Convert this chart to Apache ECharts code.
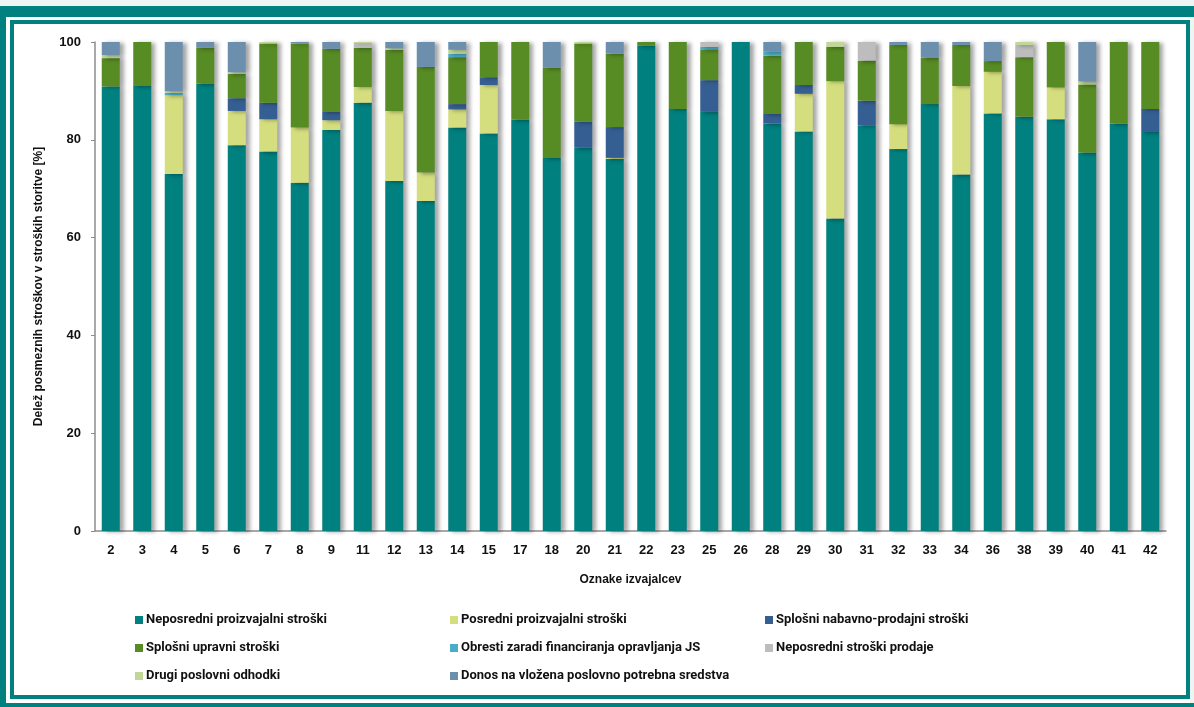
<!DOCTYPE html>
<html>
<head>
<meta charset="utf-8">
<script src="https://cdn.jsdelivr.net/npm/echarts@6/dist/echarts.min.js"></script>
<style>
  html, body { margin: 0; padding: 0; background: #eef3f4; }
  #wrap { position: relative; width: 1194px; height: 707px; overflow: hidden; }
  .band { position: absolute; background: #00807f; }
  #paper { position: absolute; left: 6px; top: 17px; width: 1184px; height: 686px; background: #fff; }
  #inner { position: absolute; left: 10px; top: 20px; width: 1172px; height: 671px; border: 4px solid #00807f; }
  #chart { position: absolute; left: 0; top: 0; width: 1194px; height: 707px; }
</style>
</head>
<body>
<div id="wrap">
  <div class="band" style="left:0;top:6px;width:1194px;height:11px"></div>
  <div class="band" style="left:0;top:6px;width:6px;height:701px"></div>
  <div class="band" style="left:0;top:703px;width:1194px;height:4px"></div>
  <div id="paper"></div>
  <div id="inner"></div>
  <div id="chart"></div>
</div>
<script>
// oznake izvajalcev
var categories = ['2','3','4','5','6','7','8','9','11','12','13','14','15','17','18','20','21',
                  '22','23','25','26','28','29','30','31','32','33','34','36','38','39','40','41','42'];

// deleži v % (od spodaj navzgor)
var neposredniProizv = [90.9, 91.0, 73.0, 91.5, 78.9, 77.6, 71.2, 82.0, 87.6, 71.6, 67.5, 82.5, 81.3, 84.1, 76.3, 78.4, 76.1,
                        99.2, 86.3, 85.7, 100, 83.3, 81.7, 63.9, 83.0, 78.1, 87.3, 72.9, 85.4, 84.7, 84.2, 77.4, 83.3, 81.6];
var posredniProizv   = [0, 0, 16.1, 0, 7.0, 6.6, 11.3, 2.0, 3.2, 14.3, 5.8, 3.7, 9.9, 0, 0, 0, 0.2,
                        0, 0, 0, 0, 0, 7.7, 28.1, 0, 5.1, 0, 18.1, 8.5, 0, 6.5, 0, 0, 0];
var nabavnoProdajni  = [0, 0, 0, 0, 2.6, 3.4, 0, 1.7, 0, 0, 0, 1.1, 1.6, 0, 0, 5.3, 6.3,
                        0, 0, 6.5, 0, 2.0, 1.8, 0, 5.0, 0, 0, 0, 0, 0, 0, 0, 0, 4.7];
var upravni          = [5.8, 9.0, 0, 7.3, 5.0, 12.1, 17.2, 12.9, 8.0, 12.5, 21.6, 9.6, 7.2, 15.9, 18.4, 16.0, 15.0,
                        0.8, 13.7, 6.3, 0, 11.9, 8.8, 7.0, 8.2, 16.2, 9.5, 8.4, 2.2, 12.2, 9.3, 13.9, 16.7, 13.7];
var obresti          = [0, 0, 0.5, 0, 0, 0, 0, 0, 0, 0, 0, 0.7, 0, 0, 0, 0, 0,
                        0, 0, 0.5, 0, 0.8, 0, 0, 0, 0, 0, 0, 0, 0, 0, 0, 0, 0];
var prodaje          = [0, 0, 0, 0, 0, 0, 0, 0, 1.0, 0, 0, 0, 0, 0, 0, 0, 0,
                        0, 0, 1.0, 0, 0, 0, 0, 3.8, 0, 0, 0, 0, 2.5, 0, 0, 0, 0];
var drugi            = [0.6, 0, 0.3, 0, 0.3, 0.3, 0, 0, 0.2, 0.3, 0, 0.8, 0, 0, 0, 0.3, 0,
                        0, 0, 0, 0, 0, 0, 1.0, 0, 0, 0, 0, 0, 0.6, 0, 0.6, 0, 0];
var donos            = [2.7, 0, 10.1, 1.2, 6.2, 0, 0.3, 1.4, 0, 1.3, 5.1, 1.6, 0, 0, 5.3, 0, 2.4,
                        0, 0, 0, 0, 2.0, 0, 0, 0, 0.6, 3.2, 0.6, 3.9, 0, 0, 8.1, 0, 0];

var seriesNames = ['Neposredni proizvajalni stroški', 'Posredni proizvajalni stroški',
                   'Splošni nabavno-prodajni stroški', 'Splošni upravni stroški',
                   'Obresti zaradi financiranja opravljanja JS', 'Neposredni stroški prodaje',
                   'Drugi poslovni odhodki', 'Donos na vložena poslovno potrebna sredstva'];
var seriesData = [neposredniProizv, posredniProizv, nabavnoProdajni, upravni, obresti, prodaje, drugi, donos];
var colors = ['#00807f', '#d5de7e', '#355f92', '#578b24', '#4aadc8', '#bdbdbd', '#c0d797', '#6c8fae'];

var labelFont = 'Liberation Sans';

function makeSeries() {
    var s = [];
    for (var i = 0; i < seriesNames.length; i++) {
        s.push({
            name: seriesNames[i],
            type: 'bar',
            stack: 'total',
            barWidth: 18,
            itemStyle: {
                color: colors[i],
                shadowColor: 'rgba(0,0,0,0.35)',
                shadowBlur: 4,
                shadowOffsetX: 4,
                shadowOffsetY: 1
            },
            data: seriesData[i]
        });
    }
    return s;
}

function legendCol(left, names) {
    return {
        orient: 'vertical',
        left: left,
        top: 608,
        itemWidth: 8,
        itemHeight: 8,
        itemGap: 14,
        icon: 'rect',
        data: names,
        textStyle: { fontFamily: 'Roboto', fontSize: 13, fontWeight: 'bold', color: '#111', lineHeight: 14, padding: [0, 0, 0, -2] },
        selectedMode: false
    };
}

var chart = echarts.init(document.getElementById('chart'));
chart.setOption({
    animation: false,
    color: colors,
    grid: { left: 95, right: 28, top: 42, bottom: 176, containLabel: false },
    xAxis: {
        type: 'category',
        data: categories,
        name: 'Oznake izvajalcev',
        nameLocation: 'middle',
        nameGap: 43,
        nameTextStyle: { fontFamily: labelFont, fontSize: 12, fontWeight: 'bold', color: '#111' },
        axisLine: { lineStyle: { color: '#8c8c8c', width: 1.5 } },
        axisTick: { length: 5, lineStyle: { color: '#8c8c8c' } },
        axisLabel: { margin: 13, fontFamily: labelFont, fontSize: 13, fontWeight: 'bold', color: '#111', interval: 0 }
    },
    yAxis: {
        type: 'value',
        min: 0,
        max: 100,
        interval: 20,
        name: 'Delež posmeznih stroškov v stroških storitve [%]',
        nameLocation: 'middle',
        nameGap: 50,
        nameTextStyle: { fontFamily: labelFont, fontSize: 12, fontWeight: 'bold', color: '#111' },
        axisLine: { show: true, lineStyle: { color: '#8c8c8c', width: 1.5 } },
        axisTick: { show: true, length: 4, lineStyle: { color: '#8c8c8c' } },
        splitLine: { show: false },
        axisLabel: { margin: 14, fontFamily: labelFont, fontSize: 13, fontWeight: 'bold', color: '#111' }
    },
    legend: [
        legendCol(130, [seriesNames[0], seriesNames[3], seriesNames[6]]),
        legendCol(445, [seriesNames[1], seriesNames[4], seriesNames[7]]),
        legendCol(760, [seriesNames[2], seriesNames[5]])
    ],
    series: makeSeries()
});
</script>
</body>
</html>
